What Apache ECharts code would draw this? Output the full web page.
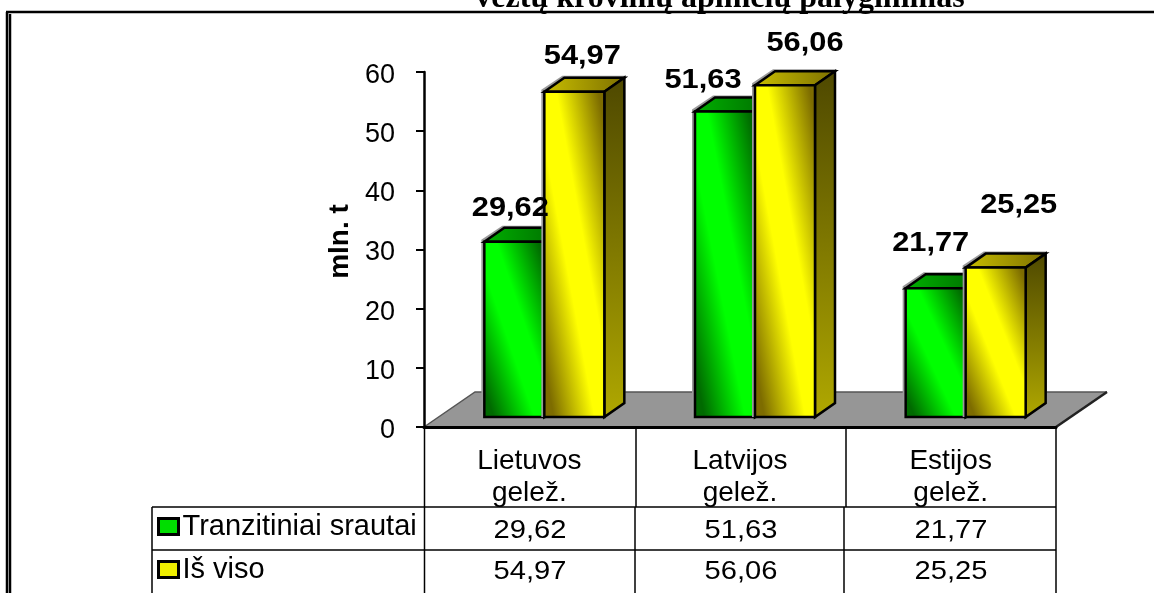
<!DOCTYPE html>
<html>
<head>
<meta charset="utf-8">
<title>Krovinių apimčių palyginimas</title>
<script src="https://cdn.jsdelivr.net/npm/echarts@6/dist/echarts.min.js"></script>
<style>
  html, body { margin: 0; padding: 0; background: #fff; }
  #chart { width: 1154px; height: 593px; }
</style>
</head>
<body>
<div id="chart"></div>
<script>
const titleText = 'vežtų krovinių apimčių palyginimas';
const axisName = 'mln. t';
const categories = ['Lietuvos\ngelež.', 'Latvijos\ngelež.', 'Estijos\ngelež.'];
const seriesNames = ['Tranzitiniai srautai', 'Iš viso'];
const transitValues = [29.62, 51.63, 21.77];
const totalValues = [54.97, 56.06, 25.25];

const FONT = '"Liberation Sans", Arial, sans-serif';
const gridBox = { left: 424, top: 72, right: 98, bottom: 166 };

// 3D look of the bars
const barDepth = [20, -14];
const floorDepth = [51, -35];
const floorLift = 10;
const barShift = 15;
const barShare = 60 / 210.67;

const palette = [
  { dark: '#006a00', bright: '#00ff00', topL: '#00b000', topR: '#006800', sideT: '#004a00', sideB: '#009000' },
  { dark: '#7d6c00', bright: '#ffff00', topL: '#c8be00', topR: '#7e7000', sideT: '#4e4800', sideB: '#b0a800' }
];

// label nudges relative to the front top centre of each bar, as placed in the picture
const labelNudge = [
  [[-4, -33], [-22, -31], [-5, -45]],
  [[8, -35], [20, -42], [23, -62]]
];

const fmt = v => v.toFixed(2).replace('.', ',');

// diagonal sheen: dark corners bottom-left and top-right, bright along the other diagonal
function sheen(x, y, w, h, c) {
  const len = Math.sqrt(w * w + h * h);
  const nx = h / len, ny = -w / len, reach = w * h / len;
  const cx = x + w / 2, cy = y + h / 2;
  return new echarts.graphic.LinearGradient(
    cx - nx * reach, cy - ny * reach, cx + nx * reach, cy + ny * reach,
    [
      { offset: 0, color: c.dark },
      { offset: 0.08, color: c.dark },
      { offset: 0.42, color: c.bright },
      { offset: 0.6, color: c.bright },
      { offset: 0.95, color: c.dark },
      { offset: 1, color: c.dark }
    ],
    true
  );
}

function barRenderer(seriesIdx) {
  return function (params, api) {
    const i = api.value(0);
    const top = api.coord([i, api.value(1)]);
    const base = api.coord([i, 0]);
    const w = api.size([1, 0])[0] * barShare;
    const x = top[0] + barShift - (seriesIdx === 0 ? w : 0);
    const t = top[1] - floorLift;
    const b = base[1] - floorLift;
    const [dx, dy] = barDepth;
    const c = palette[seriesIdx];
    const stroke = { stroke: '#000', lineWidth: 2.5, lineJoin: 'miter' };
    const poly = (points, fill, extra) => ({
      type: 'polygon',
      shape: { points },
      style: Object.assign({ fill }, extra || stroke)
    });
    return {
      type: 'group',
      children: [
        poly([[x - 3, b], [x - 3, t - 2], [x + dx - 2, t + dy - 2], [x + w + dx + 1, t + dy - 2], [x + w + dx + 1, b + dy], [x + w, b]], '#9a9a9a', { stroke: null }),
        poly([[x, t], [x + dx, t + dy], [x + w + dx, t + dy], [x + w, t]],
          new echarts.graphic.LinearGradient(0, 0, 1, 0, [{ offset: 0, color: c.topL }, { offset: 1, color: c.topR }])),
        poly([[x + w, t], [x + w + dx, t + dy], [x + w + dx, b + dy], [x + w, b]],
          new echarts.graphic.LinearGradient(0, 0, 0, 1, [{ offset: 0, color: c.sideT }, { offset: 1, color: c.sideB }])),
        poly([[x, t], [x + w, t], [x + w, b], [x, b]], sheen(x, t, w, b - t, c))
      ]
    };
  };
}

function labelRenderer(seriesIdx) {
  return function (params, api) {
    const i = api.value(0);
    const top = api.coord([i, api.value(1)]);
    const w = api.size([1, 0])[0] * barShare;
    const x = top[0] + barShift + (seriesIdx === 0 ? -w / 2 : w / 2);
    const n = labelNudge[seriesIdx][i];
    return {
      type: 'text',
      x: x + n[0],
      y: top[1] - floorLift + n[1],
      scaleX: 1.1,
      style: {
        text: fmt(api.value(1)),
        font: 'bold 28px ' + FONT,
        fill: '#000',
        textAlign: 'center',
        textVerticalAlign: 'middle'
      }
    };
  };
}

function floorRenderer(params) {
  const box = params.coordSys;
  const l = box.x, r = box.x + box.width, b = box.y + box.height;
  const [dx, dy] = floorDepth;
  return {
    type: 'group',
    children: [
      { type: 'polygon', shape: { points: [[l, b], [l + dx, b + dy], [r + dx, b + dy], [r, b]] }, style: { fill: '#969696', stroke: null } },
      { type: 'polyline', shape: { points: [[l, b], [l + dx, b + dy], [r + dx, b + dy]] }, style: { fill: null, stroke: '#555', lineWidth: 1.5 } },
      { type: 'polyline', shape: { points: [[r, b], [r + dx, b + dy]] }, style: { fill: null, stroke: '#222', lineWidth: 2.5 } }
    ]
  };
}

const toPoints = values => values.map((v, i) => [i, v]);
const seriesValues = [transitValues, totalValues];

const tableX = [424.5, 636, 846, 1056];
const tableLowerX = [424.5, 635, 844, 1056];
const tableRowY = [507, 550, 593];
const rowTextY = [531, 572];

const line = (x1, y1, x2, y2, width) => ({
  type: 'line',
  shape: { x1, y1, x2, y2 },
  style: { stroke: '#000', lineWidth: width || 1.5 },
  silent: true
});

const frame = [
  line(6, 12, 1154, 12, 2.5),
  line(7, 12, 7, 593, 2.5),
  line(10, 14, 10, 593, 2.5)
];

const tableLines = [
  line(152, tableRowY[0], tableX[3], tableRowY[0]),
  line(152, tableRowY[1], tableX[3], tableRowY[1]),
  line(152, tableRowY[0], 152, 593),
  ...tableX.map(x => line(x, 427, x, tableRowY[0], 1.5)),
  ...tableLowerX.map(x => line(x, tableRowY[0], x, 593, 1.5))
];

const colCentres = [530, 741, 951];
const tableCells = [];
seriesValues.forEach((vals, r) => {
  vals.forEach((v, c) => {
    tableCells.push({
      type: 'text',
      x: colCentres[c],
      y: rowTextY[r],
      scaleX: 1.12,
      silent: true,
      style: {
        text: fmt(v),
        font: '26px ' + FONT,
        fill: '#000',
        textAlign: 'center',
        textVerticalAlign: 'middle'
      }
    });
  });
});

const chart = echarts.init(document.getElementById('chart'), null, { renderer: 'canvas' });

chart.setOption({
  animation: false,
  backgroundColor: '#fff',
  title: {
    text: titleText,
    left: 715,
    textAlign: 'center',
    top: -22,
    textStyle: { fontFamily: '"Liberation Serif", serif', fontWeight: 'bold', fontSize: 32, color: '#000' }
  },
  legend: {
    orient: 'vertical',
    left: 157,
    top: 512,
    height: 120,
    padding: 0,
    itemWidth: 20,
    itemHeight: 16,
    itemGap: 14,
    selectedMode: false,
    textStyle: { fontFamily: FONT, fontSize: 29, color: '#000', lineHeight: 16, padding: [4, 0, 0, -1] },
    data: [
      { name: seriesNames[0], icon: 'rect', itemStyle: { color: '#00dd00', borderColor: '#000', borderWidth: 3 } },
      { name: seriesNames[1], icon: 'rect', itemStyle: { color: '#eeee00', borderColor: '#000', borderWidth: 3 } }
    ]
  },
  grid: gridBox,
  xAxis: {
    type: 'category',
    data: categories,
    z: 5,
    axisLine: { lineStyle: { color: '#000', width: 3 } },
    axisTick: { show: false },
    axisLabel: { color: '#000', fontFamily: FONT, fontSize: 28, lineHeight: 32, margin: 18, interval: 0 }
  },
  yAxis: {
    type: 'value',
    min: 0,
    max: 60,
    interval: 10,
    name: axisName,
    nameLocation: 'middle',
    nameRotate: 90,
    nameGap: 66,
    nameTextStyle: { color: '#000', fontFamily: FONT, fontSize: 28, fontWeight: 'bold', padding: [0, 0, 0, 16] },
    z: 5,
    splitLine: { show: false },
    axisLine: { show: true, lineStyle: { color: '#000', width: 2.5 } },
    axisTick: { show: true, length: 8, lineStyle: { color: '#000', width: 2 } },
    axisLabel: {
      margin: 29,
      formatter: '{tick|{value}}',
      rich: { tick: { color: '#000', fontFamily: FONT, fontSize: 27, padding: [7, 0, 0, 0] } }
    }
  },
  graphic: [...frame, ...tableLines, ...tableCells],
  series: [
    { type: 'custom', name: 'floor', silent: true, z: 1, clip: false, renderItem: floorRenderer, data: [[0, 0]], encode: { x: 0, y: 1 } },
    { type: 'custom', name: seriesNames[0], z: 2, clip: false, renderItem: barRenderer(0), data: toPoints(transitValues), encode: { x: 0, y: 1 } },
    { type: 'custom', name: seriesNames[1], z: 3, clip: false, renderItem: barRenderer(1), data: toPoints(totalValues), encode: { x: 0, y: 1 } },
    { type: 'custom', name: 'labels0', silent: true, z: 6, clip: false, renderItem: labelRenderer(0), data: toPoints(transitValues), encode: { x: 0, y: 1 } },
    { type: 'custom', name: 'labels1', silent: true, z: 6, clip: false, renderItem: labelRenderer(1), data: toPoints(totalValues), encode: { x: 0, y: 1 } }
  ]
});
</script>
</body>
</html>
